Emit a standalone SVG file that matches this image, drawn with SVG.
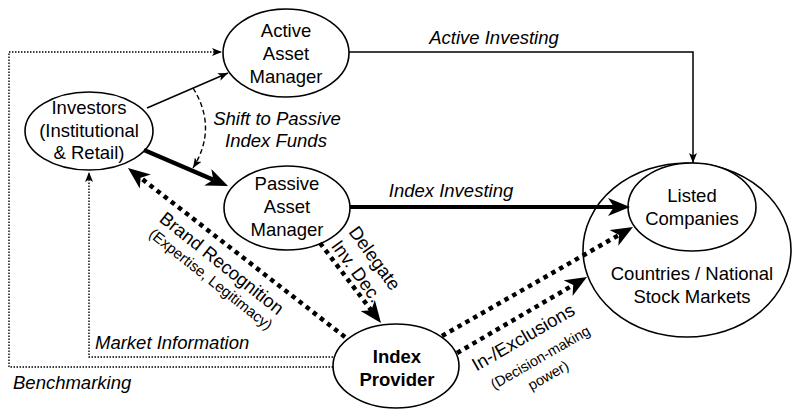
<svg xmlns="http://www.w3.org/2000/svg" width="796" height="412" viewBox="0 0 796 412">
<style>
.node{fill:#fff;stroke:#000;stroke-width:1.6}
.t{font-family:"Liberation Sans",Arial,sans-serif;font-size:18.5px;fill:#000;text-anchor:middle}
.b{font-weight:bold}
.i{font-style:italic}
.s{font-size:15px}
.thin{fill:none;stroke:#000;stroke-width:1.5}
.thick{fill:none;stroke:#000;stroke-width:4.2}
.dots{fill:none;stroke:#000;stroke-width:4.5;stroke-dasharray:4.5 4.5}
.fine{fill:none;stroke:#000;stroke-width:1.4;stroke-dasharray:1.5 1.5}
.dash{fill:none;stroke:#000;stroke-width:1.4;stroke-dasharray:5 3}
</style>
<defs>
<marker id="big" markerUnits="userSpaceOnUse" viewBox="0 0 22 18" refX="6" refY="9" markerWidth="22" markerHeight="18" orient="auto">
<path d="M0,0 L22,9 L0,18 L6,9 z" fill="#000"/>
</marker>
<marker id="sm" markerUnits="userSpaceOnUse" viewBox="0 0 10 8" refX="10" refY="4" markerWidth="10" markerHeight="8" orient="auto">
<path d="M0,0 L10,4 L0,8 L2.5,4 z" fill="#000"/>
</marker>
</defs>
<g id="countries">
<ellipse class="node" cx="687" cy="250" rx="104" ry="87"/>
<text class="t" x="692" y="279.5">Countries / National</text>
<text class="t" x="692" y="302.5">Stock Markets</text>
</g>
<g id="listed">
<ellipse class="node" cx="692" cy="207" rx="64" ry="44"/>
<text class="t" x="692" y="201.5">Listed</text>
<text class="t" x="692" y="224.5">Companies</text>
</g>
<g id="investors">
<ellipse class="node" cx="89" cy="131" rx="64" ry="39"/>
<text class="t" x="89" y="113.5">Investors</text>
<text class="t" x="89" y="136.5">(Institutional</text>
<text class="t" x="89" y="159">&amp; Retail)</text>
</g>
<g id="active">
<ellipse class="node" cx="286" cy="53" rx="63" ry="44"/>
<text class="t" x="286" y="36.5">Active</text>
<text class="t" x="286" y="59.5">Asset</text>
<text class="t" x="286" y="82.5">Manager</text>
</g>
<g id="passive">
<ellipse class="node" cx="287" cy="208" rx="63" ry="42"/>
<text class="t" x="287" y="189.5">Passive</text>
<text class="t" x="287" y="212.5">Asset</text>
<text class="t" x="287" y="235.5">Manager</text>
</g>
<g id="index">
<ellipse class="node" cx="396" cy="366" rx="63" ry="42"/>
<text class="t b" x="397" y="362.5">Index</text>
<text class="t b" x="397" y="385.5">Provider</text>
</g>
<g id="connectors">
<path class="fine" d="M333,367 H9 V52 H222" marker-end="url(#sm)"/>
<path class="fine" d="M333,357 H89 V172" marker-end="url(#sm)"/>
<path class="thin" d="M147,108 L228,73" marker-end="url(#sm)"/>
<path class="thick" d="M144,150 L213.3,179.7" marker-end="url(#big)"/>
<path class="dash" d="M193,88 Q218,128 193,168" marker-end="url(#sm)"/>
<path class="thin" d="M349,52 H693 V163" marker-end="url(#sm)"/>
<path class="thick" d="M350,207 H614" marker-end="url(#big)"/>
<path class="dots" d="M442,336 L619.1,234.9" marker-end="url(#big)"/>
<path class="dots" d="M457,353 L573.2,285.1" marker-end="url(#big)"/>
<path class="dots" d="M345,337 L140.6,177.8" marker-end="url(#big)"/>
<path class="dots" d="M320,243 L371.3,310.3" marker-end="url(#big)"/>
<text class="t i" x="494" y="44">Active Investing</text>
<text class="t i" x="451" y="197">Index Investing</text>
<text class="t i" x="277" y="125">Shift to Passive</text>
<text class="t i" x="276" y="147">Index Funds</text>
<text class="t i" x="95" y="349" style="text-anchor:start">Market Information</text>
<text class="t i" x="13" y="389" style="text-anchor:start">Benchmarking</text>
<text class="t" transform="translate(222,263) rotate(38.5)" y="6.6">Brand Recognition</text>
<text class="t s" transform="translate(211,279) rotate(38.5)" y="5.4">(Expertise, Legitimacy)</text>
<text class="t" transform="translate(375,258) rotate(54)" y="6.6">Delegate</text>
<text class="t" transform="translate(357,271) rotate(54)" y="6.6">Inv. Dec.</text>
<text class="t" transform="translate(523,337) rotate(-30)" y="6.6">In-/Exclusions</text>
<text class="t s" transform="translate(540,357) rotate(-30)" y="5.4" style="font-size:14.5px">(Decision-making</text>
<text class="t s" transform="translate(548,375) rotate(-30)" y="5.4" style="font-size:14.5px">power)</text>
</g>
</svg>
